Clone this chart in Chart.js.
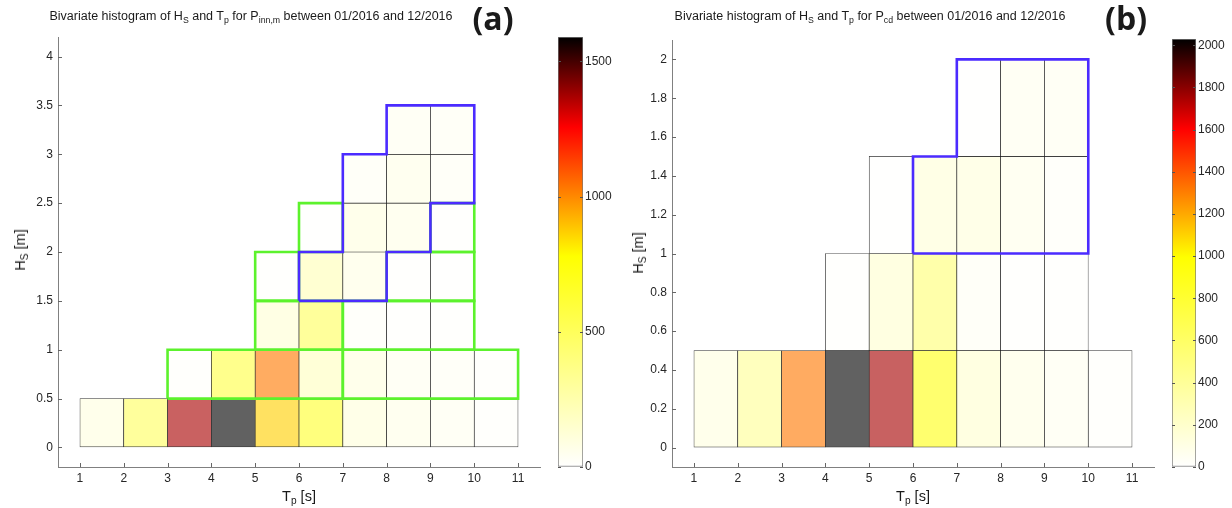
<!DOCTYPE html>
<html>
<head>
<meta charset="utf-8">
<script src="https://cdn.jsdelivr.net/npm/chart.js@4.4.1/dist/chart.umd.min.js"></script>
<style>
  body { margin: 0; background: #fff; width: 1232px; height: 508px; position: relative; overflow: hidden;
         font-family: "Liberation Sans", Arial, sans-serif; color: #1a1a1a; }
  canvas { position: absolute; top: 0; }
  .t { position: absolute; font-size: 12.5px; white-space: nowrap; transform: translateX(-50%); }
  .ax { position: absolute; font-size: 14.5px; white-space: nowrap; transform: translate(-50%, -50%); }
  .ax.rot { transform: translate(-50%, -50%) rotate(-90deg); }
  .p { position: absolute; font-family: "Open Sans", sans-serif; font-weight: bold; font-size: 32px;
       line-height: 1; transform: translateX(-50%); }
  sub { font-size: 0.7em; vertical-align: baseline; position: relative; top: 0.3em; }
</style>
</head>
<body>
<canvas id="mainA" width="548" height="508" style="left:0"></canvas>
<canvas id="cbA" width="70" height="508" style="left:558px"></canvas>
<canvas id="mainB" width="552" height="508" style="left:610px"></canvas>
<canvas id="cbB" width="60" height="508" style="left:1172px"></canvas>

<div class="t" style="left:251px;top:9px">Bivariate histogram of H<sub>S</sub> and T<sub>p</sub> for P<sub>inn,m</sub> between 01/2016 and 12/2016</div>
<div class="t" style="left:870px;top:9px">Bivariate histogram of H<sub>S</sub> and T<sub>p</sub> for P<sub>cd</sub> between 01/2016 and 12/2016</div>
<div class="p" style="left:493px;top:2px">(a)</div>
<div class="p" style="left:1126px;top:2px">(b)</div>
<div class="ax" style="left:299px;top:496px">T<sub>p</sub> [s]</div>
<div class="ax" style="left:913px;top:496px">T<sub>p</sub> [s]</div>
<div class="ax rot" style="left:20px;top:250px">H<sub>S</sub> [m]</div>
<div class="ax rot" style="left:638px;top:253px">H<sub>S</sub> [m]</div>

<script>
// Tp bins (left edges, 1 s wide), Hs bins 0.5 m high
const tpBins = [1, 2, 3, 4, 5, 6, 7, 8, 9, 10];
const hsStep = 0.5;

// counts per Hs row (row 0 = 0-0.5 m), per Tp bin; null = no cell
const countsA = [
  [100, 490, 1370, 1590, 870, 640, 113, 74, 49, 15],
  [null, null, 15, 567, 1030, 197, 99, 49, 35, 15],
  [null, null, null, null, 133, 493, 25, 12, 10, null],
  [null, null, null, null, 8, 222, 84, 8, 5, null],
  [null, null, null, null, null, 5, 99, 74, 8, null],
  [null, null, null, null, null, null, 35, 74, 35, null],
  [null, null, null, null, null, null, null, 49, 40, null]
];
const countsB = [
  [126, 408, 1320, 2030, 1752, 913, 189, 107, 63, 19],
  [null, null, null, 10, 189, 535, 44, 15, 10, null],
  [null, null, null, null, 5, 157, 145, 82, 31, null],
  [null, null, null, null, null, null, 5, 69, 63, null]
];
const maxA = 1590;
const maxB = 2030;

// outlined regions (Tp, Hs corners)
const greenA = [
  [[3, 0.5], [7, 0.5], [7, 1], [3, 1]],
  [[7, 0.5], [11, 0.5], [11, 1], [7, 1]],
  [[5, 1], [7, 1], [7, 1.5], [5, 1.5]],
  [[7, 1], [10, 1], [10, 1.5], [7, 1.5]],
  [[5, 1.5], [6, 1.5], [6, 2], [5, 2]],
  [[6, 2], [7, 2], [7, 2.5], [6, 2.5]],
  [[8, 1.5], [10, 1.5], [10, 2], [8, 2]],
  [[9, 2], [10, 2], [10, 2.5], [9, 2.5]]
];
const blueA = [
  [[6, 1.5], [6, 2], [7, 2], [7, 3], [8, 3], [8, 3.5], [10, 3.5], [10, 2.5], [9, 2.5], [9, 2], [8, 2], [8, 1.5]]
];
const blueB = [
  [[6, 1], [6, 1.5], [7, 1.5], [7, 2], [10, 2], [10, 1]]
];

const xTicks = [1, 2, 3, 4, 5, 6, 7, 8, 9, 10, 11];
const yTicksA = [0, 0.5, 1, 1.5, 2, 2.5, 3, 3.5, 4];
const yTicksB = [0, 0.2, 0.4, 0.6, 0.8, 1, 1.2, 1.4, 1.6, 1.8, 2];
const cbTicksA = [0, 500, 1000, 1500];
const cbTicksB = [0, 200, 400, 600, 800, 1000, 1200, 1400, 1600, 1800, 2000];

// white -> yellow -> red -> black
const cmapStops = [[0, [255, 255, 255]], [0.49, [255, 255, 0]], [0.79, [255, 0, 0]], [1, [0, 0, 0]]];
function cmap(t) {
  t = Math.max(0, Math.min(1, t));
  for (let i = 1; i < cmapStops.length; i++) {
    const [t1, c1] = cmapStops[i];
    const [t0, c0] = cmapStops[i - 1];
    if (t <= t1) {
      const f = (t - t0) / (t1 - t0);
      return c0.map((v, k) => v + (c1[k] - v) * f);
    }
  }
  return cmapStops[cmapStops.length - 1][1];
}
// cells are drawn with face alpha ~0.62 over white
function cellColor(v, max) {
  const c = cmap(v / max).map(x => Math.round(255 * 0.38 + x * 0.62));
  return 'rgb(' + c.join(',') + ')';
}

const font = { family: '"Liberation Sans", Arial, sans-serif', size: 12 };
const tickColor = '#262626';
const axisColor = '#808080';

// short tick marks pointing into the plot
const inTicks = {
  id: 'inTicks',
  afterDraw(chart, args, opts) {
    const { ctx, chartArea: ca } = chart;
    ctx.save();
    ctx.strokeStyle = opts.color || '#666';
    ctx.lineWidth = 1;
    ctx.beginPath();
    (opts.axes || []).forEach(id => {
      const s = chart.scales[id];
      s.ticks.forEach(t => {
        const p = Math.round(s.getPixelForValue(t.value)) + 0.5;
        if (s.isHorizontal()) {
          ctx.moveTo(p, ca.bottom); ctx.lineTo(p, ca.bottom - 4);
        } else if (opts.both) {
          ctx.moveTo(ca.left, p); ctx.lineTo(ca.left + 3, p);
          ctx.moveTo(ca.right, p); ctx.lineTo(ca.right - 3, p);
        } else {
          ctx.moveTo(ca.left, p); ctx.lineTo(ca.left + 4, p);
        }
      });
    });
    ctx.stroke();
    ctx.restore();
  }
};

function cellData(counts, max) {
  const pts = [], cols = [];
  counts.forEach((row, r) => {
    row.forEach((v, i) => {
      if (v === null) return;
      pts.push({ x: tpBins[i] + 0.5, y: [r * hsStep, (r + 1) * hsStep] });
      cols.push(cellColor(v, max));
    });
  });
  return { pts, cols };
}

function outline(polys, color, order) {
  return polys.map(poly => ({
    type: 'line',
    data: poly.concat([poly[0]]).map(p => ({ x: p[0], y: p[1] })),
    borderColor: color,
    borderWidth: 2.6,
    borderJoinStyle: 'miter',
    pointRadius: 0,
    fill: false,
    tension: 0,
    order: order
  }));
}

function mainChart(id, counts, max, polys, yMin, yMax, yTicks, pad, yWidth) {
  const cells = cellData(counts, max);
  return new Chart(document.getElementById(id), {
    type: 'bar',
    data: {
      datasets: [{
        data: cells.pts,
        backgroundColor: cells.cols,
        borderColor: 'rgba(20,20,20,0.85)',
        borderWidth: 0.7,
        borderSkipped: false,
        barPercentage: 1,
        categoryPercentage: 1,
        order: 5
      }].concat(polys)
    },
    options: {
      responsive: false,
      animation: false,
      layout: { padding: pad },
      plugins: { legend: { display: false }, tooltip: { enabled: false }, inTicks: { axes: ['x', 'y'] } },
      scales: {
        x: {
          type: 'linear', min: 0.5, max: 11.5, offset: false,
          afterBuildTicks: s => { s.ticks = xTicks.map(v => ({ value: v })); },
          afterFit: s => { s.height = 41; },
          ticks: { font, color: tickColor, padding: 4, autoSkip: false, maxRotation: 0, callback: v => String(v) },
          grid: { drawOnChartArea: false, drawTicks: false, offset: false },
          border: { color: axisColor, width: 1 }
        },
        y: {
          type: 'linear', min: yMin, max: yMax,
          afterBuildTicks: s => { s.ticks = yTicks.map(v => ({ value: v })); },
          afterFit: s => { s.width = yWidth; },
          ticks: { font, color: tickColor, padding: 5, autoSkip: false, callback: v => String(v) },
          grid: { drawOnChartArea: false, drawTicks: false },
          border: { color: axisColor, width: 1 }
        }
      }
    },
    plugins: [inTicks]
  });
}

function colorbar(id, max, ticks, pad, width) {
  return new Chart(document.getElementById(id), {
    type: 'bar',
    data: {
      labels: ['c'],
      datasets: [{
        data: [[0, max]],
        backgroundColor: ctx => {
          const ca = ctx.chart.chartArea;
          if (!ca) return null;
          const g = ctx.chart.ctx.createLinearGradient(0, ca.bottom, 0, ca.top);
          cmapStops.forEach(([t, c]) => g.addColorStop(t, 'rgb(' + c.join(',') + ')'));
          return g;
        },
        borderColor: '#777',
        borderWidth: 1,
        borderSkipped: false,
        barPercentage: 1,
        categoryPercentage: 1
      }]
    },
    options: {
      responsive: false,
      animation: false,
      layout: { padding: pad },
      plugins: { legend: { display: false }, tooltip: { enabled: false }, inTicks: { axes: ['y'], both: true, color: '#555' } },
      scales: {
        x: { display: false },
        y: {
          position: 'right', min: 0, max: max,
          afterBuildTicks: s => { s.ticks = ticks.map(v => ({ value: v })); },
          afterFit: s => { s.width = width; },
          ticks: { font, color: tickColor, padding: 2, autoSkip: false, callback: v => String(v) },
          grid: { drawOnChartArea: false, drawTicks: false },
          border: { display: false }
        }
      }
    },
    plugins: [inTicks]
  });
}

mainChart('mainA', countsA, maxA,
  outline(greenA, '#5cf22c', 2).concat(outline(blueA, '#4b2bff', 1)),
  -0.2, 4.2, yTicksA, { top: 37, right: 8, left: 0, bottom: 0 }, 58);
mainChart('mainB', countsB, maxB,
  outline(blueB, '#4b2bff', 1),
  -0.1, 2.1, yTicksB, { top: 40, right: 8, left: 0, bottom: 0 }, 62);
colorbar('cbA', maxA, cbTicksA, { top: 37, bottom: 41, left: 0, right: 0 }, 45);
colorbar('cbB', maxB, cbTicksB, { top: 39, bottom: 41, left: 0, right: 0 }, 36);
</script>
</body>
</html>
